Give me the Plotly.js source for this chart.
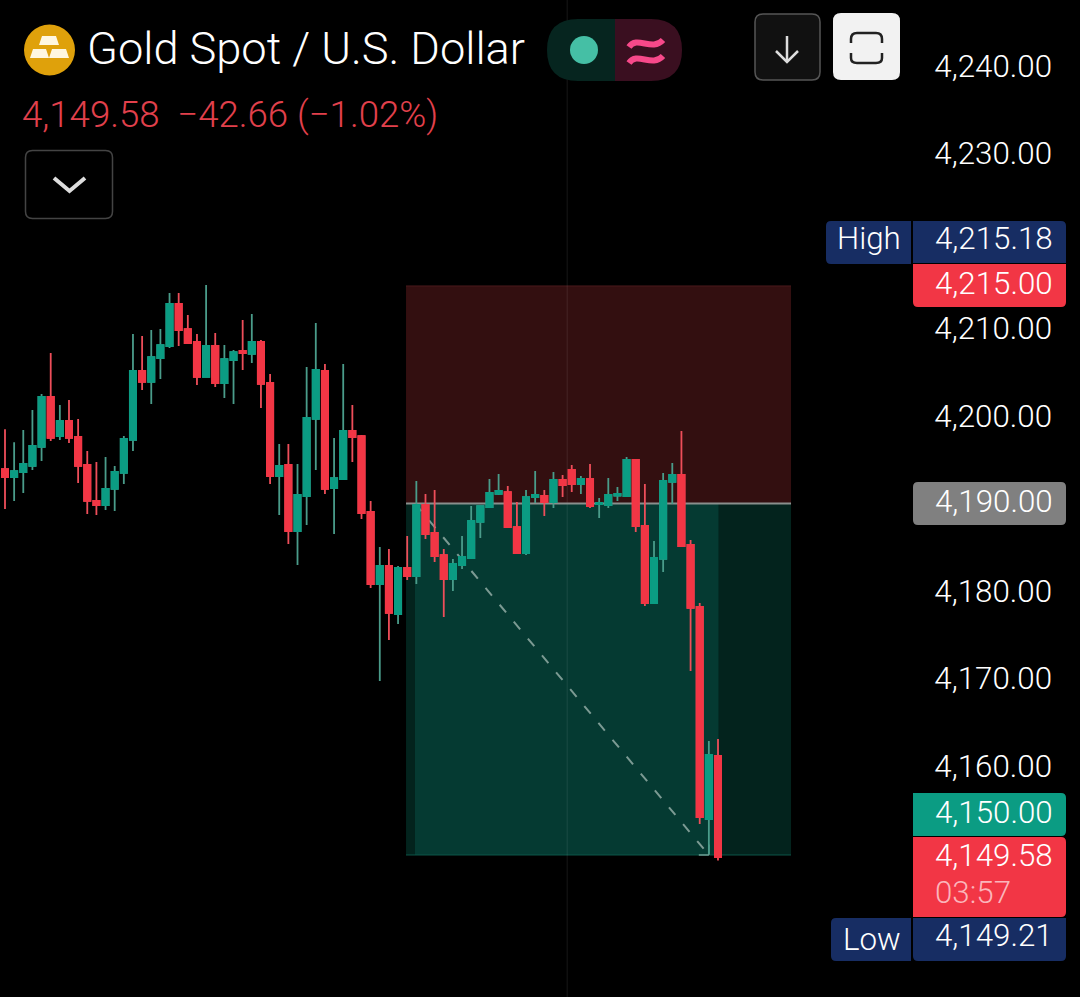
<!DOCTYPE html>
<html><head><meta charset="utf-8">
<script src="https://cdn.plot.ly/plotly-3.0.1.min.js"></script>
<style>html,body{margin:0;padding:0;background:#000;overflow:hidden}#c{width:1080px;height:997px}</style>
</head><body><div id="c"></div>
<script>
// bar-by-bar prices
const isUp=[0,1,1,1,1,0,1,0,0,0,0,1,1,1,1,0,1,1,1,0,0,0,1,0,1,1,0,1,0,0,1,0,1,1,1,0,1,1,0,0,0,1,0,1,0,1,0,0,0,1,1,1,1,1,1,0,0,1,1,0,1,0,0,1,0,1,1,1,1,0,0,1,1,1,0,0,0,1,0];
const highs=[4198.48,4196.99,4198.40,4200.69,4202.51,4207.20,4201.26,4201.83,4199.66,4196.00,4194.74,4195.31,4194.29,4197.71,4209.37,4209.14,4209.83,4209.94,4214.06,4214.06,4211.54,4209.37,4214.97,4209.49,4208.11,4207.54,4210.97,4211.66,4208.69,4204.80,4196.80,4196.80,4194.51,4205.60,4210.63,4205.94,4197.49,4205.94,4201.26,4197.83,4190.29,4185.03,4184.80,4182.86,4186.29,4192.57,4191.09,4191.54,4184.80,4183.66,4186.29,4189.71,4189.71,4192.80,4193.37,4192.00,4190.17,4191.54,4193.71,4191.54,4193.60,4193.26,4194.40,4193.14,4194.51,4190.63,4192.91,4191.89,4195.31,4194.97,4192.23,4185.71,4193.49,4194.63,4198.29,4185.83,4178.63,4162.86,4163.09];
const tops=[4193.94,4193.71,4194.52,4196.57,4202.17,4202.17,4199.43,4199.43,4197.60,4194.40,4190.29,4191.66,4193.60,4197.37,4205.14,4205.14,4206.74,4208.11,4212.80,4212.80,4209.94,4208.46,4208.00,4208.00,4206.51,4207.31,4207.43,4208.46,4208.46,4203.77,4194.29,4194.40,4190.97,4199.77,4205.26,4205.14,4192.91,4198.29,4198.29,4197.71,4189.03,4182.86,4182.86,4182.63,4182.63,4189.83,4189.83,4186.63,4184.11,4183.09,4183.89,4188.00,4189.71,4191.20,4191.43,4191.31,4187.31,4190.74,4190.97,4190.86,4192.69,4192.69,4193.83,4192.80,4192.80,4190.06,4190.97,4191.09,4194.97,4194.97,4187.43,4183.77,4192.57,4193.26,4193.26,4185.26,4178.17,4161.26,4161.14];
const bottoms=[4193.03,4193.03,4193.60,4194.29,4196.46,4197.49,4197.71,4197.49,4194.29,4190.29,4189.83,4189.83,4191.66,4193.49,4197.26,4203.89,4203.89,4206.63,4208.00,4209.83,4208.34,4204.46,4204.46,4203.77,4203.77,4206.40,4207.20,4207.09,4203.66,4193.14,4193.14,4186.86,4186.86,4190.86,4199.66,4191.66,4191.77,4192.80,4197.60,4188.91,4180.80,4180.80,4177.49,4177.37,4181.71,4181.71,4186.51,4184.00,4181.37,4181.37,4182.97,4183.77,4187.89,4189.60,4191.09,4187.31,4184.34,4184.34,4190.74,4190.17,4190.17,4192.11,4192.23,4192.23,4189.71,4189.94,4189.83,4190.89,4190.86,4187.43,4178.63,4178.63,4183.66,4192.46,4185.14,4178.06,4154.17,4153.94,4149.58];
const lows=[4189.37,4190.29,4191.20,4193.83,4194.86,4197.14,4197.26,4196.91,4192.34,4188.80,4188.69,4189.26,4189.14,4192.23,4196.00,4202.97,4201.37,4204.23,4207.77,4208.00,4208.23,4203.54,4204.46,4203.31,4202.06,4201.37,4205.26,4206.06,4200.91,4192.23,4188.69,4185.37,4182.97,4187.54,4193.83,4191.09,4186.51,4192.80,4194.74,4188.23,4180.34,4169.71,4174.40,4176.23,4181.26,4180.80,4185.94,4183.31,4177.03,4180.00,4182.51,4183.77,4186.06,4189.60,4190.97,4187.31,4184.23,4184.11,4190.06,4188.57,4189.49,4190.74,4191.31,4191.09,4189.49,4188.34,4189.49,4190.29,4190.74,4186.74,4178.29,4178.63,4182.17,4189.94,4185.03,4170.86,4153.37,4149.94,4149.21];
const barIndex=isUp.map((_,i)=>i);
const opens=isUp.map((u,i)=>u?bottoms[i]:tops[i]);
const closes=isUp.map((u,i)=>u?tops[i]:bottoms[i]);

// price axis
const tickPrices=[4240,4230,4210,4200,4180,4170,4160];
const tickLabels=["4,240.00","4,230.00","4,210.00","4,200.00","4,180.00","4,170.00","4,160.00"];

// position tool levels
const stopLevel=4214.86, entryLevel=4190, targetLevel=4149.83;
const toolStart=43.87, toolEnd=85.99, entryBar=44.85, lastBar=78.05, projEnd=77, crosshairBar=61.5;

const W=1080,H=997;
const GREEN="#0b9c83",RED="#F23645",NAVY="#172D63",GREY="#808080";
const FONT="Roboto, Arial, sans-serif";
const px=x=>x/W, py=y=>1-y/H;
const pathPx=s=>s.replace(/(-?[\d.]+),(-?[\d.]+)/g,(m,a,b)=>px(+a)+" "+py(+b));
const ps=(d,fill,stroke,w)=>({type:"path",xref:"paper",yref:"paper",path:pathPx(d),fillcolor:fill||"rgba(0,0,0,0)",line:{color:stroke||"rgba(0,0,0,0)",width:w||0},layer:"above"});
function rr(x0,y0,x1,y1,a,b,c,d){ // rounded rect, radii tl,tr,br,bl
  return `M ${x0+a},${y0} L ${x1-b},${y0} Q ${x1},${y0} ${x1},${y0+b} L ${x1},${y1-c} Q ${x1},${y1} ${x1-c},${y1} L ${x0+d},${y1} Q ${x0},${y1} ${x0},${y1-d} L ${x0},${y0+a} Q ${x0},${y0} ${x0+a},${y0} Z`;
}
const rect=(x0,x1,y0,y1,fill,line)=>({type:"rect",xref:"x",yref:"y",x0,x1,y0,y1,fillcolor:fill,line:{color:line||"rgba(0,0,0,0)",width:line?1:0},layer:"below"});
const seg=(x0,y0,x1,y1,color,width,dash)=>({type:"line",xref:"x",yref:"y",x0,y0,x1,y1,line:{color,width,dash:dash||"solid"},layer:"below"});

const shapes=[
  rect(toolStart,toolEnd,entryLevel,stopLevel,"#330F10"),
  rect(toolStart,toolEnd,targetLevel,entryLevel,"#03231D"),
  rect(entryBar,lastBar,targetLevel,entryLevel,"#053A32"),
  seg(toolStart,targetLevel,toolEnd,targetLevel,"#0D5648",1),
  seg(toolStart,stopLevel,toolEnd,stopLevel,"#4A1A1C",1),
  seg(crosshairBar,4133,crosshairBar,4248,"rgba(255,255,255,0.09)",1),
  seg(toolStart,entryLevel,toolEnd,entryLevel,"#8A8F8D",2),
  seg(entryBar,entryLevel,projEnd,targetLevel,"#7C9A93",2,"10px,12px"),
  seg(projEnd-1.1,targetLevel,projEnd,targetLevel,"#6FA196",1.5),
  seg(projEnd,targetLevel+1.2,projEnd,targetLevel,"#6FA196",1.5),
  // logo
  {type:"circle",xref:"paper",yref:"paper",x0:px(24),x1:px(75),y0:py(24.5),y1:py(75.5),fillcolor:"#DFA10B",line:{width:0},layer:"above"},
  ps("M 42,36 L 56,36 L 59,45 L 39,45 Z","#FFF7E0"),
  ps("M 33,49 L 46,49 L 49,58 L 30,58 Z","#FFF7E0"),
  ps("M 52,49 L 66,49 L 69,58 L 49,58 Z","#FFF7E0"),
  // chevron button
  ps(rr(25.5,150.5,112.5,218.5,7,7,7,7),"#000","#444",1.5),
  ps("M 54,178 L 69.5,191 L 85,178","rgba(0,0,0,0)","#DDD",4),
  // pill
  ps("M 615,19 L 578,19 Q 547,19 547,50 Q 547,81 578,81 L 615,81 Z","#06251F"),
  ps("M 615,19 L 651,19 Q 682,19 682,50 Q 682,81 651,81 L 615,81 Z","#3A0F20"),
  {type:"circle",xref:"paper",yref:"paper",x0:px(570),x1:px(598),y0:py(36),y1:py(64),fillcolor:"#45BFA5",line:{width:0},layer:"above"},
  ps("M 629,47 C 637,35 652,52 663,40","rgba(0,0,0,0)","#F7498A",6),
  ps("M 629,63 C 637,51 652,68 663,56","rgba(0,0,0,0)","#F7498A",6),
  // arrow button
  ps(rr(755,14,820,80,8,8,8,8),"#111","#555",1.5),
  ps("M 787,36 L 787,62","rgba(0,0,0,0)","#DDD",2.5),
  ps("M 776,51 L 787,62 L 798,51","rgba(0,0,0,0)","#DDD",2.5),
  // fullscreen button
  ps(rr(833,13,900,80,8,8,8,8),"#F2F2F2"),
  ps("M 851,43 L 851,39 Q 851,33 857,33 L 876,33 Q 882,33 882,39 L 882,43","rgba(0,0,0,0)","#222",2.5),
  ps("M 851,53 L 851,58 Q 851,63 857,63 L 876,63 Q 882,63 882,58 L 882,53","rgba(0,0,0,0)","#222",2.5),
  // price badges
  ps(rr(826,221,911,264,5,0,0,5),NAVY),
  ps(rr(913,221,1066,263,0,5,0,0),NAVY),
  ps(rr(913,264,1066,307,0,0,5,5),RED),
  ps(rr(913,482,1066,525,5,5,5,5),GREY),
  ps(rr(913,793,1066,836,0,5,5,0),GREEN),
  ps(rr(913,837,1066,917,0,5,5,0),RED),
  ps(rr(831,918,911,961,5,0,0,5),NAVY),
  ps(rr(913,918,1066,961,0,0,5,5),NAVY)
];

const note=(text,x,y,size,color,weight,anchor)=>({text,xref:"paper",yref:"paper",x:px(x),y:py(y),xanchor:anchor||"left",yanchor:"middle",showarrow:false,align:"left",borderpad:0,
  font:{family:FONT,size,color,weight:weight||400}});
const TS=31.3;
const annotations=[
  note("Gold Spot / U.S. Dollar",85.5,48,45.2,"#FFFFFF",300),
  note("4,149.58&nbsp;&nbsp;−42.66 (−1.02%)",21,114.5,36.6,"#E2404C",300),
  note("High",835.5,239,TS,"#FFFFFF",300),
  note("4,215.18",934,238.5,TS,"#FFFFFF",300),
  note("4,215.00",934,283.5,TS,"#FFFFFF",300),
  note("4,190.00",934,501,TS,"#FFFFFF",300),
  note("4,150.00",934,812.5,TS,"#FFFFFF",300),
  note("4,149.58",934,855.5,TS,"#FFFFFF",300),
  note("03:57",934,892,TS,"#FBB5BB",300),
  note("Low",841.5,939,TS,"#FFFFFF",300),
  note("4,149.21",934,935.5,TS,"#FFFFFF",300)
];

const wicks={type:"candlestick",x:barIndex,open:opens,high:highs,low:lows,close:closes,
  increasing:{line:{color:"#4A9C8A",width:1.8},fillcolor:"#4A9C8A"},
  decreasing:{line:{color:"#EE4E5A",width:1.8},fillcolor:"#EE4E5A"},whiskerwidth:0,hoverinfo:"skip",showlegend:false};
const bodies={type:"candlestick",x:barIndex,open:opens,high:tops,low:bottoms,close:closes,
  increasing:{line:{color:GREEN,width:1.8},fillcolor:GREEN},
  decreasing:{line:{color:RED,width:1.8},fillcolor:RED},whiskerwidth:0,hoverinfo:"skip",showlegend:false};

const layout={width:W,height:H,margin:{l:0,r:0,t:0,b:0,pad:0},paper_bgcolor:"#000",plot_bgcolor:"#000",
  showlegend:false,hovermode:false,dragmode:false,boxmode:"overlay",boxgap:0.32,boxgroupgap:0,
  xaxis:{range:[(0-5)/9.141,(W-5)/9.141],visible:false,rangeslider:{visible:false},fixedrange:true},
  yaxis:{range:[entryLevel-(H-503.5)/8.75,entryLevel+503.5/8.75],side:"right",ticklabelposition:"inside",tickmode:"array",tickvals:tickPrices,ticktext:tickLabels,
    showgrid:false,zeroline:false,showline:false,ticks:"",ticklabelstandoff:25,fixedrange:true,
    tickfont:{family:FONT,size:TS,color:"#FFFFFF",weight:300}},
  shapes,annotations};
Plotly.newPlot("c",[wicks,bodies],layout,{displayModeBar:false,staticPlot:true});
</script></body></html>
